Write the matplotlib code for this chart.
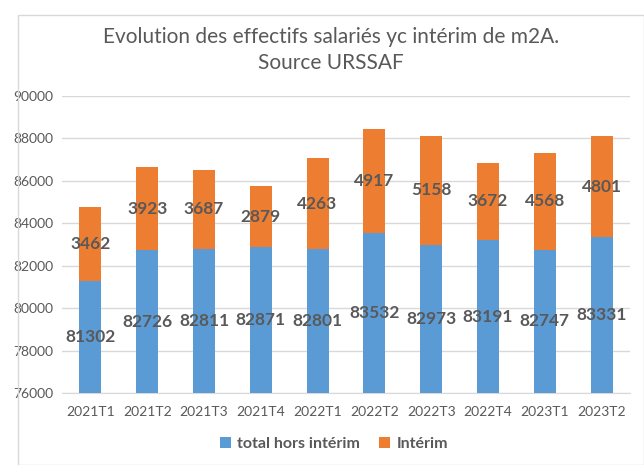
import matplotlib.pyplot as plt
import numpy as np

periodes = ["2021T1", "2021T2", "2021T3", "2021T4", "2022T1",
            "2022T2", "2022T3", "2022T4", "2023T1", "2023T2"]
hors_interim = [81302, 82726, 82811, 82871, 82801, 83532, 82973, 83191, 82747, 83331]
interim = [3462, 3923, 3687, 2879, 4263, 4917, 5158, 3672, 4568, 4801]

BLUE = "#5B9BD5"
ORANGE = "#ED7D31"
TXT = "#595959"
BASE = 76000

plt.rcParams["font.family"] = ["Lato", "DejaVu Sans"]

fig = plt.figure(figsize=(6.44, 4.65), dpi=100)
ax = fig.add_axes([62 / 644, 1 - 393 / 465, 568 / 644, 297 / 465])

# cadre du graphique
fig.patches.append(plt.Rectangle((18 / 644, 0), 1 - 18 / 644, 1 - 15 / 465,
                                 transform=fig.transFigure, fill=False,
                                 edgecolor="#D9D9D9", linewidth=1))

x = np.arange(len(periodes))
w = 0.39
hors = np.array(hors_interim)
inter = np.array(interim)
ax.bar(x, hors - BASE, w, bottom=BASE, color=BLUE, label="total hors intérim", zorder=3)
ax.bar(x, inter, w, bottom=hors, color=ORANGE, label="Intérim", zorder=3)

for xi, h, i in zip(x, hors, inter):
    ax.text(xi, (BASE + h) / 2, str(h), ha="center", va="center",
            fontsize=12.5, fontweight="bold", color=TXT, zorder=4)
    ax.text(xi, h + i / 2, str(i), ha="center", va="center",
            fontsize=12.5, fontweight="bold", color=TXT, zorder=4)

ax.set_xlim(-0.5, len(periodes) - 0.5)
ax.set_ylim(76000, 90000)
ax.set_yticks(range(76000, 90001, 2000))
ax.set_xticks(x)
ax.set_xticklabels(periodes)
ax.tick_params(axis="both", length=0, labelsize=10, colors=TXT)
ax.tick_params(axis="y", pad=6)
ax.tick_params(axis="x", pad=9)
ax.grid(axis="y", color="#D9D9D9", linewidth=1, zorder=0)
for s in ["top", "right", "left"]:
    ax.spines[s].set_visible(False)
ax.spines["bottom"].set_color("#D9D9D9")

fig.text(331 / 644, 1 - 37 / 465, "Evolution des effectifs salariés yc intérim de m2A.",
         ha="center", va="center", fontsize=15, color=TXT)
fig.text(331 / 644, 1 - 63 / 465, "Source URSSAF", ha="center", va="center",
         fontsize=15, color=TXT)

leg = fig.legend(loc="center", bbox_to_anchor=(334 / 644, 1 - 444 / 465), ncol=2,
                 frameon=False, handlelength=0.7, handleheight=0.7,
                 columnspacing=1.2, handletextpad=0.4,
                 prop={"size": 11.5, "weight": "bold"})
for t in leg.get_texts():
    t.set_color(TXT)

fig.savefig("out.png", dpi=100)
